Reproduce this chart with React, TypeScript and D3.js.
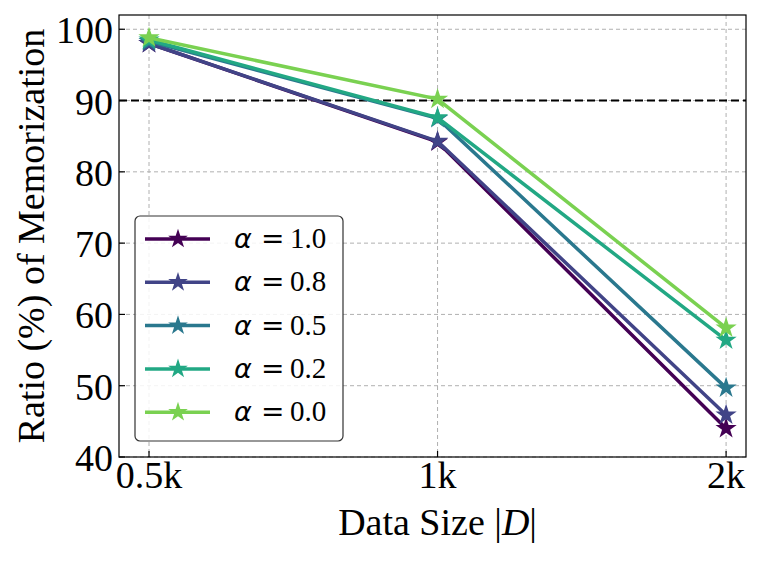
import React from "react";
import * as d3 from "d3";

// data
const sizes = ["0.5k", "1k", "2k"];
const alphas = ["1.0", "0.8", "0.5", "0.2", "0.0"];
const colors = ["#440154", "#414487", "#2a788e", "#22a884", "#7ad151"];
const alpha10 = [98.0, 84.2, 44.0];
const alpha08 = [98.0, 84.3, 45.9];
const alpha05 = [98.3, 87.5, 49.7];
const alpha02 = [98.5, 87.6, 56.4];
const alpha00 = [98.8, 90.2, 58.1];
const series = [alpha10, alpha08, alpha05, alpha02, alpha00];
const yTicks = [40, 50, 60, 70, 80, 90, 100];
const threshold = 90;

const W = 762;
const H = 561;
const margin = { left: 119, right: 16, top: 15, bottom: 104 };
const FONT = "'Liberation Serif', 'Times New Roman', serif";
const MATH = "'DejaVu Sans', sans-serif";

const App = () => {
  const iw = W - margin.left - margin.right;
  const ih = H - margin.top - margin.bottom;

  const x = d3.scaleLinear().domain([-0.104, 2.069]).range([0, iw]);
  const y = d3.scaleLinear().domain([40, 102]).range([ih, 0]);

  const line = d3
    .line<number>()
    .x((_, i) => x(i))
    .y((d) => y(d));

  const star = d3.symbol(d3.symbolStar, 140)();
  const starSmall = d3.symbol(d3.symbolStar, 120)();

  // legend layout
  const lg = { x: 16, y: 201, w: 208, h: 225, row: 43.3 };

  return (
    <svg
      width={W}
      height={H}
      style={{ position: "absolute", left: 0, top: 0, background: "#fff" }}
      fontFamily={FONT}
    >
      <g transform={`translate(${margin.left},${margin.top})`}>
        {/* grid */}
        {yTicks.map((t) => (
          <line
            key={"gy" + t}
            x1={0}
            x2={iw}
            y1={y(t)}
            y2={y(t)}
            stroke="#b0b0b0"
            strokeWidth={1}
            strokeDasharray="4,3"
          />
        ))}
        {sizes.map((s, i) => (
          <line
            key={"gx" + s}
            x1={x(i)}
            x2={x(i)}
            y1={0}
            y2={ih}
            stroke="#b0b0b0"
            strokeWidth={1}
            strokeDasharray="4,3"
          />
        ))}

        {/* threshold */}
        <line
          x1={0}
          x2={iw}
          y1={y(threshold)}
          y2={y(threshold)}
          stroke="#000"
          strokeWidth={2}
          strokeDasharray="8,4"
        />

        {/* series */}
        {series.map((vals, k) => (
          <g key={"s" + k}>
            <path d={line(vals) || ""} fill="none" stroke={colors[k]} strokeWidth={3.5} />
            {vals.map((v, i) => (
              <path
                key={i}
                d={star}
                transform={`translate(${x(i)},${y(v)})`}
                fill={colors[k]}
              />
            ))}
          </g>
        ))}

        {/* frame */}
        <rect x={0} y={0} width={iw} height={ih} fill="none" stroke="#000" strokeWidth={1.2} />

        {/* ticks */}
        {yTicks.map((t) => (
          <g key={"ty" + t}>
            <line x1={0} x2={6} y1={y(t)} y2={y(t)} stroke="#000" strokeWidth={1.2} />
            <text x={-6} y={y(t) + 14} textAnchor="end" fontSize={38} fill="#000">
              {t}
            </text>
          </g>
        ))}
        {sizes.map((s, i) => (
          <g key={"tx" + s}>
            <line x1={x(i)} x2={x(i)} y1={ih} y2={ih - 6} stroke="#000" strokeWidth={1.2} />
            <text x={x(i)} y={ih + 31} textAnchor="middle" fontSize={38} fill="#000">
              {s}
            </text>
          </g>
        ))}

        {/* legend */}
        <rect
          x={lg.x}
          y={lg.y}
          width={lg.w}
          height={lg.h}
          rx={5}
          fill="#fff"
          fillOpacity={0.85}
          stroke="#333"
          strokeWidth={1.2}
        />
        {alphas.map((a, k) => {
          const ry = lg.y + 23 + k * lg.row;
          return (
            <g key={"l" + a}>
              <line x1={lg.x + 10} x2={lg.x + 75} y1={ry} y2={ry} stroke={colors[k]} strokeWidth={3.5} />
              <path d={starSmall} transform={`translate(${lg.x + 43},${ry})`} fill={colors[k]} />
              <text x={lg.x + 99} y={ry + 9} fontSize={27} fontFamily={MATH} fontStyle="italic" fill="#000">
                α
              </text>
              <text x={lg.x + 126} y={ry + 9} fontSize={28} fontFamily={MATH} fill="#000">
                =
              </text>
              <text x={lg.x + 155} y={ry + 9} fontSize={29} fill="#000">
                {a}
              </text>
            </g>
          );
        })}
      </g>

      {/* axis titles */}
      <text
        transform={`translate(44,${margin.top + ih / 2}) rotate(-90)`}
        textAnchor="middle"
        fontSize={38}
        fill="#000"
      >
        Ratio (%) of Memorization
      </text>
      <text x={margin.left + x(1)} y={535} textAnchor="middle" fontSize={38} fill="#000">
        Data Size |<tspan fontStyle="italic">D</tspan>|
      </text>
    </svg>
  );
};

export default App;
